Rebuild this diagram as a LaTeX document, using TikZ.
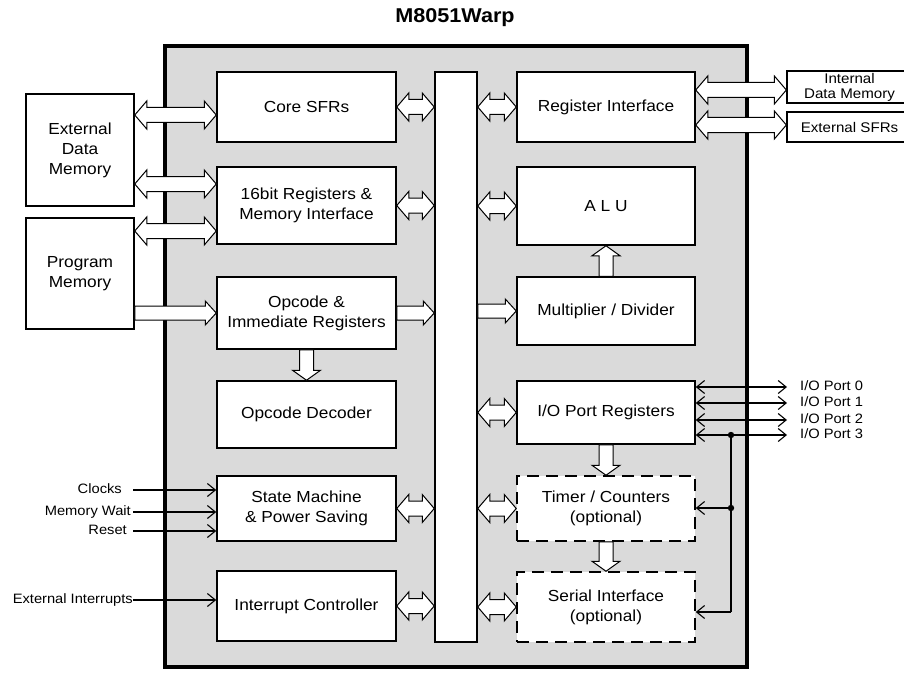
\documentclass[tikz,border=0pt]{standalone}
\usepackage{fontspec}
\setmainfont{Liberation Sans}[FakeStretch=1.08]
\usetikzlibrary{arrows.meta,calc}
\definecolor{chipgray}{RGB}{218,218,218}
\newcommand\FatDbl[2]{\draw[fat] let \p1=(#1), \p2=(#2) in
 (\x1,\y1) -- (\x1+12pt,\y1+14pt) -- (\x1+12pt,\y1+7.5pt) -- (\x2-12pt,\y1+7.5pt) -- (\x2-12pt,\y1+14pt) -- (\x2,\y1) -- (\x2-12pt,\y1-14pt) -- (\x2-12pt,\y1-7.5pt) -- (\x1+12pt,\y1-7.5pt) -- (\x1+12pt,\y1-14pt) -- cycle;}
\newcommand\FatRight[2]{\draw[fat] let \p1=(#1), \p2=(#2) in
 (\x1,\y1+7pt) -- (\x2-11pt,\y1+7pt) -- (\x2-11pt,\y1+12pt) -- (\x2,\y1) -- (\x2-11pt,\y1-12pt) -- (\x2-11pt,\y1-7pt) -- (\x1,\y1-7pt) -- cycle;}
\newcommand\FatDown[2]{\draw[fat] let \p1=(#1), \p2=(#2) in
 (\x1-7pt,\y1) -- (\x1-7pt,\y2+10pt) -- (\x1-14pt,\y2+10pt) -- (\x1,\y2) -- (\x1+14pt,\y2+10pt) -- (\x1+7pt,\y2+10pt) -- (\x1+7pt,\y1) -- cycle;}
\newcommand\FatUp[2]{\draw[fat] let \p1=(#1), \p2=(#2) in
 (\x1-7pt,\y1) -- (\x1-7pt,\y2-10pt) -- (\x1-14pt,\y2-10pt) -- (\x1,\y2) -- (\x1+14pt,\y2-10pt) -- (\x1+7pt,\y2-10pt) -- (\x1+7pt,\y1) -- cycle;}
\begin{document}
\begin{tikzpicture}[x=1pt,y=-1pt,
  box/.style={draw=black, line width=1.5pt, fill=white, align=center, inner sep=0pt, font=\fontsize{16}{20}\selectfont},
  dbox/.style={box, dash pattern=on 12pt off 7pt},
  small/.style={draw=black, line width=1.3pt, fill=white, align=center, inner sep=0pt, font=\fontsize{14}{15}\selectfont},
  fat/.style={draw=black, fill=white, line width=1pt, line join=miter},
  sig/.style={draw=black, line width=1.1pt, -{Straight Barb[length=8pt,width=13pt]}},
  sig2/.style={draw=black, line width=1.1pt, {Straight Barb[length=8pt,width=13pt]}-{Straight Barb[length=8pt,width=13pt]}},
  lbl/.style={inner sep=0pt, text height=10pt, text depth=3pt, font=\fontsize{13.6}{16}\selectfont}]
\useasboundingbox (0,0) rectangle (904,674);
% title and chip
\node[font=\bfseries\fontsize{20}{24}\selectfont] (title) at (455,18) {M8051Warp};
\node[draw=black, line width=4pt, fill=chipgray, minimum width=582pt, minimum height=621pt, inner sep=0pt] (chip) at (456,356.5) {};
% left column
\node[box, minimum width=179pt, minimum height=70pt] (core) at (306.5,107) {Core SFRs};
\node[box, minimum width=179pt, minimum height=77pt] (reg16) at (306.5,205.5) {16bit Registers \&\\Memory Interface};
\node[box, minimum width=179pt, minimum height=72pt] (opc) at (306.5,313) {Opcode \&\\Immediate Registers};
\node[box, minimum width=179pt, minimum height=67pt] (dec) at (306.5,414.5) {Opcode Decoder};
\node[box, minimum width=179pt, minimum height=65pt] (state) at (306.5,508.5) {State Machine\\\& Power Saving};
\node[box, minimum width=179pt, minimum height=70pt] (intc) at (306.5,606) {Interrupt Controller};
% bus
\node[box, minimum width=42pt, minimum height=570pt] (bus) at (456,357) {};
% right column
\node[box, minimum width=178pt, minimum height=70pt] (regif) at (606,107) {Register Interface};
\node[box, minimum width=178pt, minimum height=78pt] (alu) at (606,206) {A L U};
\node[box, minimum width=178pt, minimum height=68pt] (mult) at (606,311) {Multiplier / Divider};
\node[box, minimum width=178pt, minimum height=63pt] (ioreg) at (606,412.5) {I/O Port Registers};
\node[dbox, minimum width=178pt, minimum height=65pt] (timer) at (606,508.5) {Timer / Counters\\(optional)};
\node[dbox, minimum width=178pt, minimum height=70pt] (serial) at (606,607) {Serial Interface\\(optional)};
% external boxes
\node[box, minimum width=108pt, minimum height=112pt] (edm) at (80,150) {External\\Data\\Memory};
\node[box, minimum width=108pt, minimum height=111pt] (pm) at (80,273.5) {Program\\Memory};
\node[small, minimum width=125pt, minimum height=32pt] (idm) at (849.5,87) {Internal\\Data Memory};
\node[small, minimum width=125pt, minimum height=30pt] (esfr) at (849.5,127) {External SFRs};
% row coordinates
\coordinate (r90) at (0,90);
\coordinate (r115) at (0,115);
\coordinate (r125) at (0,125);
\coordinate (r184) at (0,184);
\coordinate (r231) at (0,231);
\coordinate (r313) at (0,313);
% fat arrows
\FatDbl{edm.east |- r115}{core.west |- r115}
\FatDbl{edm.east |- r184}{reg16.west |- r184}
\FatDbl{pm.east |- r231}{reg16.west |- r231}
\FatRight{pm.east |- r313}{opc.west |- r313}
\FatDbl{core.east}{bus.west |- core.east}
\FatDbl{reg16.east}{bus.west |- reg16.east}
\FatRight{opc.east}{bus.west |- opc.east}
\FatDbl{state.east}{bus.west |- state.east}
\FatDbl{intc.east}{bus.west |- intc.east}
\FatDbl{bus.east |- regif.west}{regif.west}
\FatDbl{bus.east |- alu.west}{alu.west}
\FatRight{bus.east |- mult.west}{mult.west}
\FatDbl{bus.east |- ioreg.west}{ioreg.west}
\FatDbl{bus.east |- timer.west}{timer.west}
\FatDbl{bus.east |- serial.west}{serial.west}
\FatDbl{regif.east |- r90}{idm.west |- r90}
\FatDbl{regif.east |- r125}{esfr.west |- r125}
\FatDown{opc.south}{dec.north}
\FatUp{mult.north}{alu.south}
\FatDown{ioreg.south}{timer.north}
\FatDown{timer.south}{serial.north}
% input signals
\node[lbl, anchor=east] (clk) at (122,490) {Clocks};
\node[lbl, anchor=east] (mw) at (131,512) {Memory Wait};
\node[lbl, anchor=east] (rst) at (127,531) {Reset};
\node[lbl, anchor=east] (eint) at (133,600) {External Interrupts};
\coordinate (clkS) at (133,490);
\coordinate (mwS) at (133,512);
\coordinate (rstS) at (133,531);
\draw[sig] (clkS) -- (state.west |- clkS);
\draw[sig] (mwS) -- (state.west |- mwS);
\draw[sig] (rstS) -- (state.west |- rstS);
\draw[sig] (eint.east) -- (intc.west |- eint.east);
% I/O ports
\node[lbl, anchor=west] (p0) at (800,387) {I/O Port 0};
\node[lbl, anchor=west] (p1) at (800,403) {I/O Port 1};
\node[lbl, anchor=west] (p2) at (800,420) {I/O Port 2};
\node[lbl, anchor=west] (p3) at (800,435) {I/O Port 3};
\draw[sig2] (ioreg.east |- p0.west) -- ([xshift=-13pt]p0.west);
\draw[sig2] (ioreg.east |- p1.west) -- ([xshift=-13pt]p1.west);
\draw[sig2] (ioreg.east |- p2.west) -- ([xshift=-13pt]p2.west);
\draw[sig2] (ioreg.east |- p3.west) -- ([xshift=-13pt]p3.west);
% feedback to timer / serial
\coordinate (j1) at (731,435);
\coordinate (j2) at (731,508);
\coordinate (j3) at (731,612);
\draw[line width=1.1pt] (j1) -- (j3);
\draw[sig] (j3) -- (serial.east |- j3);
\draw[sig] (j2) -- (timer.east |- j2);
\fill (j1) circle (3.2pt);
\fill (j2) circle (3.2pt);
\end{tikzpicture}
\end{document}
